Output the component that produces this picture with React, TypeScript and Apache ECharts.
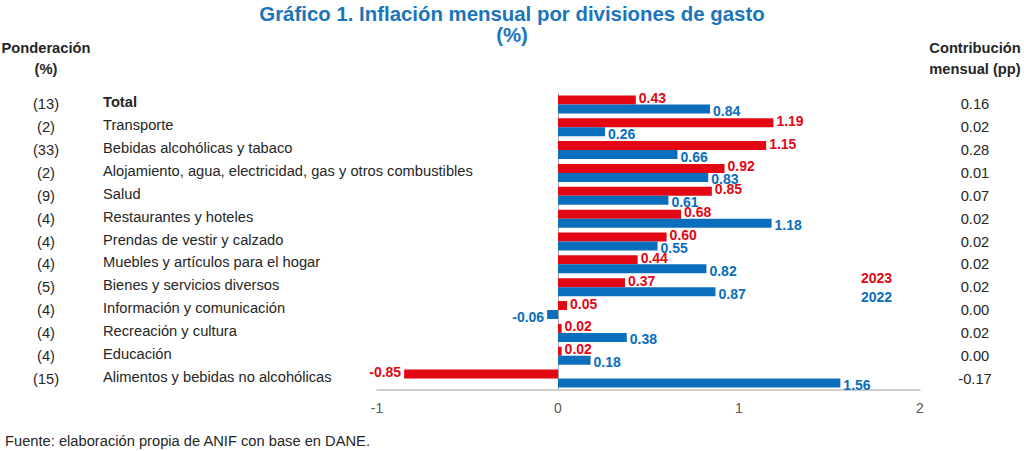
import React, { useRef, useEffect } from 'react';
import * as echarts from 'echarts';

const categories = [
  'Total',
  'Transporte',
  'Bebidas alcohólicas y tabaco',
  'Alojamiento, agua, electricidad, gas y otros combustibles',
  'Salud',
  'Restaurantes y hoteles',
  'Prendas de vestir y calzado',
  'Muebles y artículos para el hogar',
  'Bienes y servicios diversos',
  'Información y comunicación',
  'Recreación y cultura',
  'Educación',
  'Alimentos y bebidas no alcohólicas',
];
const weights = ['(13)', '(2)', '(33)', '(2)', '(9)', '(4)', '(4)', '(4)', '(5)', '(4)', '(4)', '(4)', '(15)'];
const contributions = ['0.16', '0.02', '0.28', '0.01', '0.07', '0.02', '0.02', '0.02', '0.02', '0.00', '0.02', '0.00', '-0.17'];
const infl2023 = [0.43, 1.19, 1.15, 0.92, 0.85, 0.68, 0.6, 0.44, 0.37, 0.05, 0.02, 0.02, -0.85];
const infl2022 = [0.84, 0.26, 0.66, 0.83, 0.61, 1.18, 0.55, 0.82, 0.87, -0.06, 0.38, 0.18, 1.56];

const RED = '#e30613';
const BLUE = '#0a6ebd';
const TEXT = '#262626';
const FONT = "'Liberation Sans', Arial, sans-serif";
const FS = 14.7;

const toItems = (vals: number[], color: string, dy: number) =>
  vals.map(v => ({
    value: v,
    label: { position: v < 0 ? 'left' : 'right', color, offset: [0, dy] },
  }));

const App: React.FC = () => {
  const chartRef = useRef<HTMLDivElement>(null);

  useEffect(() => {
    if (!chartRef.current) return;
    const chart = echarts.init(chartRef.current, null, { renderer: 'svg' });

    // ejes de categoría que solo sirven para escribir las columnas de texto
    const sideAxis = (data: string[], position: 'left' | 'right', margin: number, align: 'left' | 'center', extra: any = {}) => ({
      type: 'category' as const,
      data,
      inverse: true,
      position,
      axisLine: { show: false, onZero: false },
      axisTick: { show: false },
      axisLabel: {
        margin,
        align,
        color: TEXT,
        fontSize: FS,
        fontFamily: FONT,
        padding: [0, 0, 5, 0],
        ...extra,
      },
    });

    const headerStyle = {
      align: 'center',
      textAlign: 'center',
      fontSize: FS,
      fontWeight: 'bold',
      lineHeight: 21,
      fill: TEXT,
      fontFamily: FONT,
    };

    const barLabel = {
      show: true,
      distance: 3,
      fontSize: 14,
      fontWeight: 'bold' as const,
      fontFamily: FONT,
      formatter: (p: any) => Number(p.value).toFixed(2),
    };

    const option: echarts.EChartsOption = {
      animation: false,
      textStyle: { fontFamily: FONT },
      title: {
        text: 'Gráfico 1. Inflación mensual por divisiones de gasto\n(%)',
        left: 'center',
        top: 3,
        padding: 0,
        textStyle: {
          color: '#1b75bb',
          fontSize: 20.4,
          fontWeight: 'bold',
          lineHeight: 21,
          fontFamily: FONT,
        },
      },
      legend: {
        orient: 'vertical',
        left: 856,
        top: 271,
        padding: 0,
        icon: 'none',
        itemWidth: 0,
        itemHeight: 14,
        itemGap: 5,
        data: [
          { name: '2023', textStyle: { color: RED } },
          { name: '2022', textStyle: { color: BLUE } },
        ],
        textStyle: { fontSize: 14, fontWeight: 'bold', fontFamily: FONT },
        selectedMode: false,
      },
      grid: { left: 377, right: 104, top: 93, bottom: 61, containLabel: false, outerBoundsMode: 'none' } as any,
      xAxis: {
        type: 'value',
        min: -1,
        max: 2,
        interval: 1,
        splitLine: { show: false },
        axisLine: { show: true, lineStyle: { color: '#bfbfbf', width: 1.5 } },
        axisTick: { show: false },
        axisLabel: { color: '#595959', fontSize: 14, margin: 11, fontFamily: FONT },
      },
      yAxis: [
        {
          type: 'category',
          data: categories,
          inverse: true,
          axisLine: { show: true, onZero: true, lineStyle: { color: '#a6a6a6', width: 1 } },
          axisTick: { show: false },
          axisLabel: { show: false },
        },
        sideAxis(categories, 'left', 274, 'left', {
          padding: [0, 0, 4, 0],
          formatter: (v: string, i: number) => (i === 0 ? `{b|${v}}` : v),
          rich: { b: { fontWeight: 'bold', fontSize: FS, color: TEXT, fontFamily: FONT } },
        }),
        sideAxis(weights, 'left', 331, 'center'),
        sideAxis(contributions, 'right', 55, 'center'),
      ],
      series: [
        {
          name: '2023',
          type: 'bar',
          yAxisIndex: 0,
          barWidth: 9,
          barGap: '0%',
          itemStyle: { color: RED },
          label: barLabel,
          data: toItems(infl2023, RED, -2) as any,
        },
        {
          name: '2022',
          type: 'bar',
          yAxisIndex: 0,
          barWidth: 9,
          barGap: '0%',
          itemStyle: { color: BLUE },
          label: barLabel,
          data: toItems(infl2022, BLUE, 2) as any,
        },
      ],
      graphic: [
        {
          type: 'text',
          x: 46,
          y: 37,
          style: { ...headerStyle, text: 'Ponderación\n(%)' },
        } as any,
        {
          type: 'text',
          x: 975,
          y: 37,
          style: { ...headerStyle, text: 'Contribución\nmensual (pp)' },
        } as any,
        {
          type: 'text',
          x: 5,
          y: 433,
          style: {
            text: 'Fuente: elaboración propia de ANIF con base en DANE.',
            fontSize: FS,
            fill: TEXT,
            fontFamily: FONT,
          },
        },
      ],
    };

    chart.setOption(option);
    return () => chart.dispose();
  }, []);

  return (
    <div
      ref={chartRef}
      style={{ position: 'absolute', left: 0, top: 0, width: 1024, height: 451, background: '#fff' }}
    />
  );
};

export default App;
